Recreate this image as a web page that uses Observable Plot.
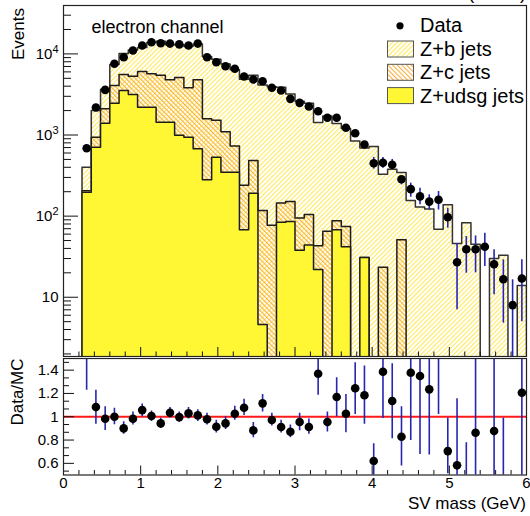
<!DOCTYPE html>
<html><head><meta charset="utf-8">
<script src="https://cdn.jsdelivr.net/npm/d3@7"></script>
<script src="https://cdn.jsdelivr.net/npm/@observablehq/plot@0.6"></script>
<style>
body{margin:0;background:#fff;font-family:"Liberation Sans",Arial,Helvetica,sans-serif;}
#wrap{position:relative;width:530px;height:516px;overflow:hidden;background:#fff;}
#wrap svg{position:absolute;left:0;}
</style></head><body>
<svg width="0" height="0" style="position:absolute">
<defs>
<pattern id="hatchB" patternUnits="userSpaceOnUse" width="3.3" height="3.3" patternTransform="rotate(45)">
<rect x="0" y="0" width="1.1" height="3.3" fill="#ffe95e"/></pattern>
<pattern id="hatchC" patternUnits="userSpaceOnUse" width="3.3" height="3.3" patternTransform="rotate(-45)">
<rect x="0" y="0" width="1.1" height="3.3" fill="#f7b040"/></pattern>
</defs></svg>
<div id="wrap"></div>
<script>
// ---------------- data (50 bins of 0.12 GeV from 0 to 6) ----------------
const binEdges = d3.range(51).map(i => Math.round(i * 12) / 100);
const dataCounts = [0,0,687,2180,3600,7550,9100,11000,12700,13900,13500,13400,13100,12700,13400,
  9100,7900,7050,6550,5260,4830,4600,3820,3540,2790,
  2490,2250,1960,1630,1630,1230,1050,764,449,454,
  430,285,215,175,151,159,97,27,39,39,
  42,25.5,16.7,8,17];
// stack top (Z+b + Z+c + Z+udsg)
const stackB = [0,0,401,2010,3660,7400,10100,11200,12000,13800,14300,13000,13100,12300,13200,
  9300,8600,7480,6380,4880,5470,4130,3930,3880,3200,
  2610,2470,1430,1710,1390,1200,844,690,724,328,
  379,344,156,130,122,69,138,46,83,45,
  0,30,33,0,14];
// Z+c + Z+udsg
const stackC = [0,0,205,940,2100,4070,5570,5300,6070,5700,5440,4800,5100,3820,4800,
  1590,1520,1100,730,240,485,117,77,145,151,
  95,105,43,65,88,74.5,0,31,0,23.4,
  0,51,0,0,0,0,0,0,0,0,
  0,0,0,0,0];
// Z+udsg
const stackU = [0,0,197,708,1400,2470,3540,3160,2200,2200,1440,1440,990,940,676,
  280,533,348,348,68,192,4.6,0,84,86,
  38,44,22,0,68,42,0,31,0,0,
  0,0,0,0,0,0,0,0,0,0,
  0,0,0,0,0];
// data error bars (only where visible)
const dataLo = [null,null,null,null,null,null,null,null,null,null,null,null,null,null,null,
  null,null,null,null,null,null,null,null,null,null,
  null,null,null,null,null,null,null,null,380,390,
  375,243,171,138,119,119,71,7,19.8,20,
  24,10.7,4.8,1,5];
const dataHi = [null,null,null,null,null,null,null,null,null,null,null,null,null,null,null,
  null,null,null,null,null,null,null,null,null,null,
  null,null,null,null,null,null,null,null,530,530,
  500,307,255,221,183,201,125,46,56,57,
  61.5,38.4,28.9,16.4,29];
// Data/MC ratio
const ratio = [null,null,1.71,1.083,0.983,1.0,0.90,0.983,1.057,1.006,0.943,1.034,0.997,1.029,1.012,
  0.978,0.914,0.943,1.026,1.077,0.883,1.115,0.972,0.912,0.871,
  0.955,0.912,1.369,0.955,1.169,1.026,1.244,1.184,0.62,1.386,
  1.135,0.828,1.378,1.35,1.235,2.3,0.705,0.583,0.43,0.863,
  null,0.877,0.44,null,1.206];
const ratioLo = [null,null,1.227,0.935,0.883,0.931,0.849,0.93,1.0,0.96,0.9,0.99,0.95,0.98,0.96,
  0.93,0.86,0.89,0.97,1.01,0.82,1.04,0.92,0.86,0.82,
  0.88,0.85,1.184,0.87,1.0,0.863,1.02,0.935,0.4,0.986,
  0.811,0.577,0.797,0.677,0.671,1.02,0.51,0.3,0.2,0.3,
  null,0.3,0.3,null,0.3];
const ratioHi = [null,null,2.2,1.227,1.086,1.074,0.957,1.04,1.11,1.05,0.99,1.08,1.04,1.08,1.06,
  1.03,0.97,1.0,1.09,1.15,0.95,1.19,1.03,0.97,0.93,
  1.03,0.98,1.506,1.04,1.335,1.19,1.464,1.435,0.768,1.7,
  1.455,1.086,1.9,1.9,1.9,3.5,0.99,1.155,0.777,1.9,
  null,1.9,0.99,null,1.9];
const xMajor = [0,1,2,3,4,5,6];
const yMajor = [10,100,1000,10000];
const rMajor = [0.6,0.8,1,1.2,1.4];

// ---------------- layout ----------------
const W = 530, ML = 63, MR = 4;
const mainH = 357, MT = 5, MB = 1;
const ratioTop = 356.5, ratioH = 516 - 356.5, RMT = 1, RMB = 42;
const yMin = 1.86, yMax = 39500, FLOOR = 0.3;
const font = '"Liberation Sans",Arial,Helvetica,sans-serif';
const pxPerX = (W - ML - MR) / 6;
const decPerPx = (Math.log10(yMax) - Math.log10(yMin)) / (mainH - MT - MB);
const rPerPx = 1.0 / (ratioH - RMT - RMB);

const bins = d3.range(2, 50).map(i => ({
  i, xc: (binEdges[i] + binEdges[i+1]) / 2,
  data: dataCounts[i], lo: dataLo[i], hi: dataHi[i],
  r: ratio[i], rlo: ratioLo[i], rhi: ratioHi[i]
}));
function stepPoints(vals) {
  const pts = [{x: binEdges[2], y: FLOOR, f: FLOOR}];
  for (let i = 2; i < 50; i++) pts.push({x: binEdges[i], y: vals[i] > 0 ? vals[i] : FLOOR, f: FLOOR});
  pts.push({x: binEdges[50], y: FLOOR, f: FLOOR});
  return pts;
}
const ptsB = stepPoints(stackB), ptsC = stepPoints(stackC), ptsU = stepPoints(stackU);

const yMinor = [];
for (let k = 0; k <= 4; k++) for (let m = 2; m <= 9; m++) { const v = m * 10 ** k; if (v >= yMin && v <= yMax) yMinor.push(v); }
const xMinor = d3.range(0, 31).map(k => Math.round(k * 20) / 100).filter(v => !xMajor.includes(v));
const rMinor = d3.range(-1, 14).map(k => 0.6 + k * 0.2 / 3).filter((v, j) => (j - 1) % 3 !== 0 && v > 0.5 && v < 1.5);

const outline = {stroke: "#1c1c1c", strokeWidth: 1.5, curve: "step-after", clip: true};
const tickStyle = {stroke: "#111", strokeWidth: 1};

const main = Plot.plot({
  width: W, height: mainH, marginLeft: ML, marginRight: MR, marginTop: MT, marginBottom: MB,
  style: {fontFamily: font, background: "transparent", color: "#000"},
  x: {domain: [0, 6], axis: null},
  y: {type: "log", domain: [yMin, yMax], axis: null},
  marks: [
    Plot.areaY(ptsB, {x: "x", y1: "f", y2: "y", curve: "step-after", fill: "url(#hatchB)", clip: true}),
    Plot.line(ptsB, {x: "x", y: "y", ...outline, stroke: "#333"}),
    Plot.areaY(ptsC, {x: "x", y1: "f", y2: "y", curve: "step-after", fill: "url(#hatchC)", clip: true}),
    Plot.line(ptsC, {x: "x", y: "y", ...outline}),
    Plot.areaY(ptsU, {x: "x", y1: "f", y2: "y", curve: "step-after", fill: "#fff733", clip: true}),
    Plot.line(ptsU, {x: "x", y: "y", ...outline}),
    Plot.ruleX(bins.filter(d => d.lo != null), {x: "xc", y1: "lo", y2: "hi", stroke: "#2626b0", strokeWidth: 1.6, clip: true}),
    Plot.dot(bins.filter(d => d.data > 0), {x: "xc", y: "data", r: 4.3, fill: "#000", stroke: null, clip: true}),
    Plot.ruleY(yMajor, {y: d => d, x1: 0, x2: 15 / pxPerX, ...tickStyle}),
    Plot.ruleY(yMinor, {y: d => d, x1: 0, x2: 8 / pxPerX, ...tickStyle}),
    Plot.ruleX(xMajor, {x: d => d, y1: yMin, y2: yMin * 10 ** (9 * decPerPx), ...tickStyle}),
    Plot.ruleX(xMinor, {x: d => d, y1: yMin, y2: yMin * 10 ** (4.5 * decPerPx), ...tickStyle}),
    Plot.axisY(yMajor, {tickSize: 0, tickPadding: 5, fontSize: 15, label: null,
      tickFormat: d => d === 10 ? "10" : "10^" + Math.round(Math.log10(d))}),
    Plot.frame({stroke: "#222", strokeWidth: 1.2})
  ]
});
main.style.top = "0px";
main.querySelectorAll('g[aria-label="y-axis tick label"] text').forEach(t => {
  const s = t.textContent;
  if (s.includes("^")) {
    const [b, e] = s.split("^");
    t.textContent = b;
    const ts = document.createElementNS("http://www.w3.org/2000/svg", "tspan");
    ts.setAttribute("dy", "-0.5em"); ts.setAttribute("font-size", "11");
    ts.textContent = e; t.appendChild(ts);
  }
});

const ratioPlot = Plot.plot({
  width: W, height: ratioH, marginLeft: ML, marginRight: MR, marginTop: RMT, marginBottom: RMB,
  style: {fontFamily: font, background: "transparent", color: "#000"},
  x: {domain: [0, 6], axis: null},
  y: {domain: [0.5, 1.5], axis: null},
  marks: [
    Plot.ruleY([1], {y: d => d, stroke: "#ff1a1a", strokeWidth: 2}),
    Plot.ruleX(bins.filter(d => d.rlo != null), {x: "xc", y1: "rlo", y2: "rhi", stroke: "#2626b0", strokeWidth: 1.6, clip: true}),
    Plot.dot(bins.filter(d => d.r != null), {x: "xc", y: "r", r: 4.3, fill: "#000", stroke: null, clip: true}),
    Plot.ruleY(rMajor, {y: d => d, x1: 0, x2: 11 / pxPerX, ...tickStyle}),
    Plot.ruleY(rMinor, {y: d => d, x1: 0, x2: 6 / pxPerX, ...tickStyle}),
    Plot.ruleX(xMajor, {x: d => d, y1: 0.5, y2: 0.5 + 9 * rPerPx, ...tickStyle}),
    Plot.ruleX(xMinor, {x: d => d, y1: 0.5, y2: 0.5 + 4.5 * rPerPx, ...tickStyle}),
    Plot.axisY(rMajor, {tickSize: 0, tickPadding: 5, fontSize: 15, label: null, tickFormat: d => String(d)}),
    Plot.axisX(xMajor, {tickSize: 0, tickPadding: 2, fontSize: 15, label: null, tickFormat: d => String(d)}),
    Plot.frame({stroke: "#222", strokeWidth: 1.2})
  ]
});
ratioPlot.style.top = ratioTop + "px";

const wrap = document.getElementById("wrap");
wrap.appendChild(main);
wrap.appendChild(ratioPlot);

// ---------------- titles, legend ----------------
const ov = d3.select(wrap).append("svg").attr("width", W).attr("height", 516)
  .style("top", "0px").style("font-family", font);
ov.append("text").attr("x", 526).attr("y", -1).attr("text-anchor", "end").attr("font-size", 18).text("(7 TeV)");
ov.append("text").attr("x", 91.5).attr("y", 33).attr("font-size", 18).text("electron channel");
ov.append("text").attr("transform", "translate(24,8) rotate(-90)").attr("text-anchor", "end").attr("font-size", 17).text("Events");
ov.append("text").attr("transform", "translate(23,358.5) rotate(-90)").attr("text-anchor", "end").attr("font-size", 17).text("Data/MC");
ov.append("text").attr("x", 526).attr("y", 509).attr("text-anchor", "end").attr("font-size", 17).text("SV mass (GeV)");

const legendItems = [
  {label: "Data", kind: "dot", y: 32.3},
  {label: "Z+b jets", kind: "url(#hatchB)", y: 56},
  {label: "Z+c jets", kind: "url(#hatchC)", y: 79.3},
  {label: "Z+udsg jets", kind: "#fff733", y: 102.6}
];
legendItems.forEach(it => {
  if (it.kind === "dot") {
    ov.append("circle").attr("cx", 400).attr("cy", it.y - 6.5).attr("r", 3.6).attr("fill", "#000");
  } else {
    ov.append("rect").attr("x", 387.5).attr("y", it.y - 15).attr("width", 26).attr("height", 16)
      .attr("fill", it.kind).attr("stroke", "#555").attr("stroke-width", 1);
  }
  ov.append("text").attr("x", 420).attr("y", it.y).attr("font-size", 20).text(it.label);
});
</script>
</body></html>
